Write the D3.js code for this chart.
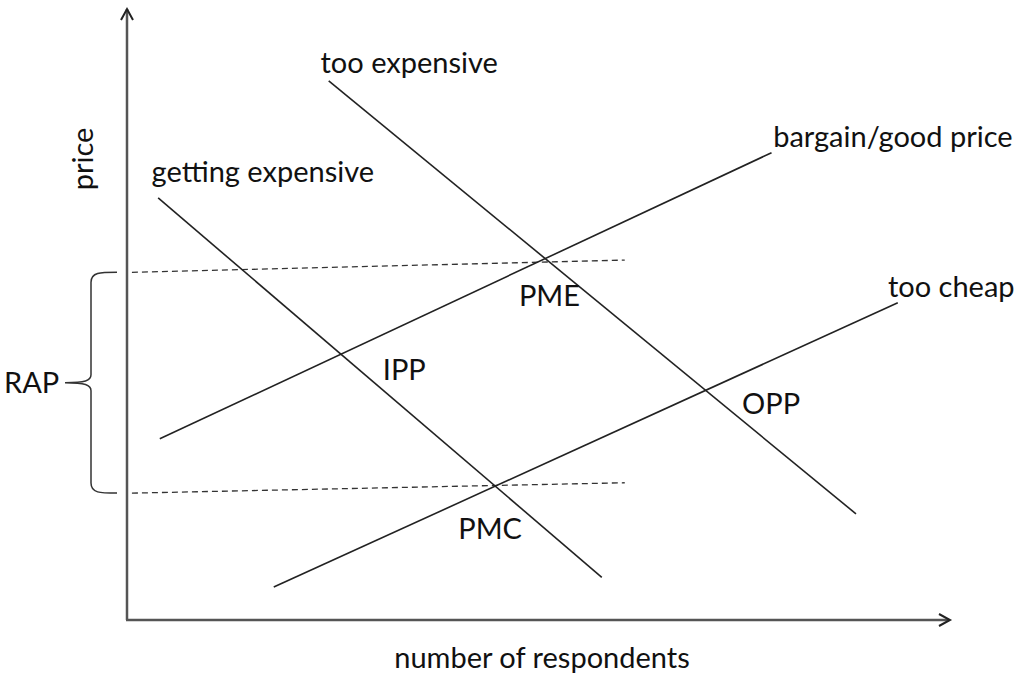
<!DOCTYPE html>
<html>
<head>
<meta charset="utf-8">
<script src="https://cdn.jsdelivr.net/npm/d3@7"></script>
<style>
  body { margin: 0; background: #fff; }
  text { font-family: Lato, "Open Sans", sans-serif; fill: #111; }
</style>
</head>
<body>
<script>
// price sensitivity meter sketch, values in 0..100 units of both axes

const curveNames = ["too expensive", "getting expensive", "bargain/good price", "too cheap"];
const curveX = [[24.6, 88.9], [3.8, 57.9], [4.0, 78.6], [17.9, 94.0]];
const curveY = [[88.4, 17.4], [69.2, 7.0], [29.7, 76.6], [5.4, 52.0]];

// labels next to the line ends
const nameX = [23.6, 3.0, 78.8, 92.8];
const nameY = [89.7, 71.8, 77.5, 53.0];

// dashed reference lines (upper and lower bound of the range of acceptable prices)
const refX = [[0.6, 60.7], [0.6, 60.7]];
const refY = [[57.0, 59.0], [20.8, 22.5]];

const pointNames = ["PME", "IPP", "OPP", "PMC"];
const pointX = [47.8, 31.2, 75.0, 40.4];
const pointY = [51.5, 39.3, 33.8, 13.3];

const width = 1024, height = 680;
const fontSize = "29px";

const x = d3.scaleLinear().domain([0, 100]).range([127, 947]);
const y = d3.scaleLinear().domain([0, 100]).range([620, 10]);

const svg = d3.select("body").append("svg")
  .attr("width", width)
  .attr("height", height);

// axes with open arrow heads
svg.append("line")
  .attr("x1", x(0)).attr("y1", y(0))
  .attr("x2", x(0)).attr("y2", y(0) - 611)
  .attr("stroke", "#555").attr("stroke-width", 2.5);
svg.append("line")
  .attr("x1", x(0) - 1).attr("y1", y(0))
  .attr("x2", x(0) + 822).attr("y2", y(0))
  .attr("stroke", "#555").attr("stroke-width", 2.5);

const tipY = y(0) - 611, tipX = x(0) + 823;
svg.append("path")
  .attr("d", `M${x(0) - 6},${tipY + 11} L${x(0)},${tipY} L${x(0) + 6},${tipY + 11}`)
  .attr("fill", "none").attr("stroke", "#222").attr("stroke-width", 2);
svg.append("path")
  .attr("d", `M${tipX - 11},${y(0) - 6} L${tipX},${y(0)} L${tipX - 11},${y(0) + 6}`)
  .attr("fill", "none").attr("stroke", "#222").attr("stroke-width", 2);

// axis titles
svg.append("text")
  .attr("transform", `translate(93,159) rotate(-90)`)
  .attr("text-anchor", "middle")
  .style("font-size", fontSize)
  .text("price");
svg.append("text")
  .attr("x", 542).attr("y", 668)
  .attr("text-anchor", "middle")
  .style("font-size", fontSize)
  .text("number of respondents");

// dashed lines
svg.selectAll(".ref")
  .data(refX)
  .enter()
  .append("line")
  .attr("class", "ref")
  .attr("x1", (d) => x(d[0]))
  .attr("x2", (d) => x(d[1]))
  .attr("y1", (d, i) => y(refY[i][0]))
  .attr("y2", (d, i) => y(refY[i][1]))
  .attr("stroke", "#333")
  .attr("stroke-width", 1.3)
  .attr("stroke-dasharray", "6,4");

// the four curves
svg.selectAll(".curve")
  .data(curveX)
  .enter()
  .append("line")
  .attr("class", "curve")
  .attr("x1", (d) => x(d[0]))
  .attr("x2", (d) => x(d[1]))
  .attr("y1", (d, i) => y(curveY[i][0]))
  .attr("y2", (d, i) => y(curveY[i][1]))
  .attr("stroke", "#222")
  .attr("stroke-width", 1.6);

svg.selectAll(".name")
  .data(curveNames)
  .enter()
  .append("text")
  .attr("class", "name")
  .attr("x", (d, i) => x(nameX[i]))
  .attr("y", (d, i) => y(nameY[i]))
  .style("font-size", fontSize)
  .text((d) => d);

svg.selectAll(".point")
  .data(pointNames)
  .enter()
  .append("text")
  .attr("class", "point")
  .attr("x", (d, i) => x(pointX[i]))
  .attr("y", (d, i) => y(pointY[i]))
  .style("font-size", fontSize)
  .text((d) => d);

// curly brace spanning the two dashed lines
const braceTop = y(refY[0][0]), braceBot = y(refY[1][0]);
const braceMid = (braceTop + braceBot) / 2;
const bx = 91;
svg.append("path")
  .attr("d", `M117,${braceTop} C100,${braceTop} ${bx},${braceTop} ${bx},${braceTop + 10}
    L${bx},${braceMid - 8} C${bx},${braceMid - 2} ${bx - 6},${braceMid} ${bx - 26},${braceMid}
    C${bx - 6},${braceMid} ${bx},${braceMid + 2} ${bx},${braceMid + 8}
    L${bx},${braceBot - 10} C${bx},${braceBot} 100,${braceBot} 117,${braceBot}`)
  .attr("fill", "none")
  .attr("stroke", "#333")
  .attr("stroke-width", 1.5);

svg.append("text")
  .attr("x", 4).attr("y", braceMid + 10)
  .style("font-size", fontSize)
  .text("RAP");
</script>
</body>
</html>
